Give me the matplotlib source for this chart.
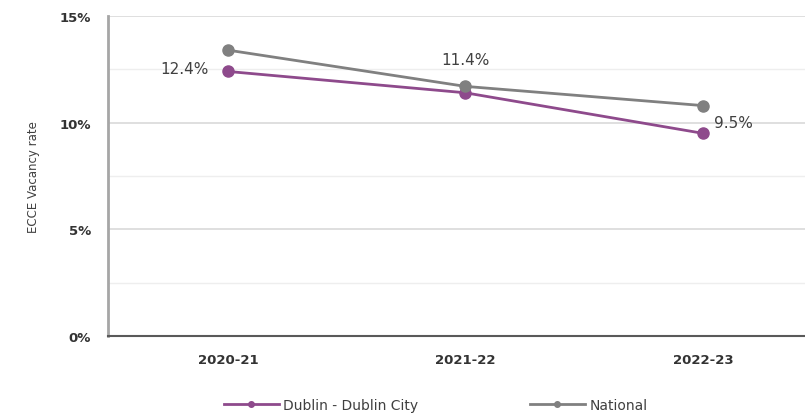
import matplotlib.pyplot as plt
from matplotlib.ticker import FuncFormatter, MultipleLocator

years = ['2020-21', '2021-22', '2022-23']
dublin = [12.4, 11.4, 9.5]
national = [13.4, 11.7, 10.8]
dublin_labels = ['12.4%', '11.4%', '9.5%']

purple = '#8E4A8C'
grey = '#808080'

fig = plt.figure(figsize=(8.05, 4.14), dpi=100)
ax = fig.add_axes([0.134, 0.186, 0.866, 0.773])

x = list(range(len(years)))
ax.plot(x, dublin, color=purple, lw=2, marker='o', ms=8, label='Dublin - Dublin City', zorder=3)
ax.plot(x, national, color=grey, lw=2, marker='o', ms=8, label='National', zorder=3)

# data labels for Dublin series
ax.annotate(dublin_labels[0], (x[0], dublin[0]), xytext=(-14, 2), textcoords='offset points',
            ha='right', va='center', fontsize=11, color='#404040')
ax.annotate(dublin_labels[1], (x[1], dublin[1]), xytext=(0, 24), textcoords='offset points',
            ha='center', va='center', fontsize=11, color='#404040')
ax.annotate(dublin_labels[2], (x[2], dublin[2]), xytext=(8, 8), textcoords='offset points',
            ha='left', va='center', fontsize=11, color='#404040')

ax.set_xlim(-0.505, 2.43)
ax.set_ylim(0, 15)
ax.set_xticks(x)
ax.set_xticklabels(years, fontsize=9.5, fontweight='bold', color='#333333')
ax.yaxis.set_major_locator(MultipleLocator(5))
ax.yaxis.set_minor_locator(MultipleLocator(2.5))
ax.yaxis.set_major_formatter(FuncFormatter(lambda v, p: '%d%%' % v))
for lab in ax.get_yticklabels():
    lab.set_fontweight('bold')
    lab.set_fontsize(9.5)
    lab.set_color('#333333')
ax.tick_params(axis='both', which='both', length=0)
ax.tick_params(axis='y', pad=12)
ax.tick_params(axis='x', pad=12)
ax.grid(axis='y', which='major', color='#d9d9d9', lw=1.2)
ax.grid(axis='y', which='minor', color='#eeeeee', lw=1)
ax.set_axisbelow(True)

for s in ['top', 'right']:
    ax.spines[s].set_visible(False)
ax.spines['left'].set_color('#a6a6a6')
ax.spines['left'].set_linewidth(2)
ax.spines['bottom'].set_color('#595959')
ax.spines['bottom'].set_linewidth(1.5)

ax.set_ylabel('ECCE Vacancy rate', fontsize=8.5, color='#404040', labelpad=14)

ax.legend(loc='center', bbox_to_anchor=(0.47, -0.215), ncol=2, frameon=False,
          fontsize=10, markerscale=0.5, handlelength=4, handletextpad=0.3,
          columnspacing=8, labelcolor='#404040')

fig.savefig('out.png', dpi=100)
